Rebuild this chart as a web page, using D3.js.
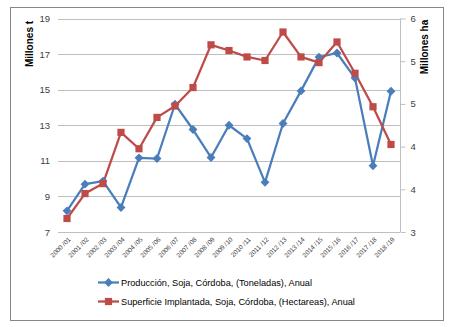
<!DOCTYPE html>
<html><head><meta charset="utf-8">
<script src="https://cdn.jsdelivr.net/npm/d3@7"></script>
<style>body{margin:0;background:#fff}svg{display:block}</style>
</head><body>
<svg id="c" width="450" height="327"></svg>
<script>
const categories = ["2000 /01","2001 /02","2002 /03","2003 /04","2004 /05","2005 /06","2006 /07","2007 /08","2008 /09","2009 /10","2010 /11","2011 /12","2012 /13","2013 /14","2014 /15","2015 /16","2016 /17","2017 /18","2018 /19"];
const produccion = [8.19,9.69,9.86,8.38,11.17,11.13,14.18,12.76,11.19,13.0,12.25,9.79,13.1,14.93,16.83,17.06,15.65,10.72,14.91];
const superficie = [3.19,3.54,3.68,4.40,4.17,4.61,4.77,5.03,5.63,5.55,5.46,5.41,5.81,5.46,5.38,5.67,5.23,4.76,4.23];
const leftTicks = [7,9,11,13,15,17,19];
const rightTicks = [3,3.6,4.2,4.8,5.4,6];
const seriesNames = ["Producción, Soja, Córdoba, (Toneladas), Anual","Superficie Implantada, Soja, Córdoba, (Hectareas), Anual"];

const svg = d3.select("#c");
const font = "'Liberation Sans', Arial, sans-serif";
const L = 58, R = 400, T = 18.5, B = 232;

svg.append("rect").attr("x",10.5).attr("y",7.5).attr("width",433).attr("height",313)
  .attr("fill","#fff").attr("stroke","#868686").attr("stroke-width",1);

const x = d3.scaleBand().domain(categories).range([L,R]);
const yL = d3.scaleLinear().domain([7,19]).range([B,T]);
const yR = d3.scaleLinear().domain([3,6]).range([B,T]);

svg.append("g").selectAll("line").data(leftTicks).join("line")
  .attr("x1",L).attr("x2",R).attr("y1",d=>Math.round(yL(d))+0.5).attr("y2",d=>Math.round(yL(d))+0.5)
  .attr("stroke","#bfbfbf").attr("stroke-width",1);

const gl = svg.append("g").attr("transform",`translate(${L},0)`)
  .call(d3.axisLeft(yL).tickValues(leftTicks).tickSize(0).tickPadding(8).tickFormat(d3.format("d")));
gl.select(".domain").remove();
gl.selectAll("text").attr("font-family",font).attr("font-size",9.5).attr("fill","#404040");

const gr = svg.append("g").attr("transform",`translate(${R+0.5},0)`)
  .call(d3.axisRight(yR).tickValues(rightTicks).tickSize(5).tickPadding(5).tickFormat(d=>String(Math.round(d))));
gr.select(".domain").attr("stroke","#bfbfbf").attr("d",`M0,${T}V${B}`);
gr.selectAll(".tick line").attr("stroke","#bfbfbf");
gr.selectAll("text").attr("font-family",font).attr("font-size",9.5).attr("fill","#404040");

svg.append("g").selectAll("text").data(categories).join("text")
  .attr("transform",d=>`translate(${x(d)+x.bandwidth()/2+4},${B+8}) rotate(-45)`)
  .attr("text-anchor","end").attr("font-family",font).attr("font-size",6.5).attr("fill","#404040")
  .text(d=>d);

svg.append("text").attr("transform","translate(33,44) rotate(-90)").attr("text-anchor","middle")
  .attr("font-family",font).attr("font-size",10).attr("font-weight","bold").attr("fill","#000").text("Millones t");
svg.append("text").attr("transform","translate(428,47) rotate(-90)").attr("text-anchor","middle")
  .attr("font-family",font).attr("font-size",10).attr("font-weight","bold").attr("fill","#000").text("Millones ha");

const cx = (d,i)=>x(categories[i])+x.bandwidth()/2;
const blue = "#4a7ebb", red = "#be4b48";

svg.append("path").datum(produccion)
  .attr("d",d3.line().x(cx).y(d=>yL(d)))
  .attr("fill","none").attr("stroke",blue).attr("stroke-width",2.25).attr("stroke-linejoin","round");
svg.append("path").datum(superficie)
  .attr("d",d3.line().x(cx).y(d=>yR(d)))
  .attr("fill","none").attr("stroke",red).attr("stroke-width",2.25).attr("stroke-linejoin","round");

const diamond = d3.symbol().type(d3.symbolDiamond2).size(50);
const square = d3.symbol().type(d3.symbolSquare).size(52);

svg.append("g").selectAll("path").data(produccion).join("path")
  .attr("d",diamond).attr("transform",(d,i)=>`translate(${cx(d,i)},${yL(d)})`).attr("fill",blue);
svg.append("g").selectAll("path").data(superficie).join("path")
  .attr("d",square).attr("transform",(d,i)=>`translate(${cx(d,i)},${yR(d)})`).attr("fill",red);

const leg = [{y:282.5,c:blue,s:diamond},{y:301.5,c:red,s:square}];
leg.forEach((l,i)=>{
  svg.append("line").attr("x1",98).attr("x2",119).attr("y1",l.y).attr("y2",l.y).attr("stroke",l.c).attr("stroke-width",2.25);
  svg.append("path").attr("d",l.s).attr("transform",`translate(108.5,${l.y})`).attr("fill",l.c);
  svg.append("text").attr("x",121).attr("y",l.y).attr("dy","0.35em").attr("font-family",font).attr("font-size",9.2)
    .attr("fill","#000").text(seriesNames[i]);
});
</script>
</body></html>
